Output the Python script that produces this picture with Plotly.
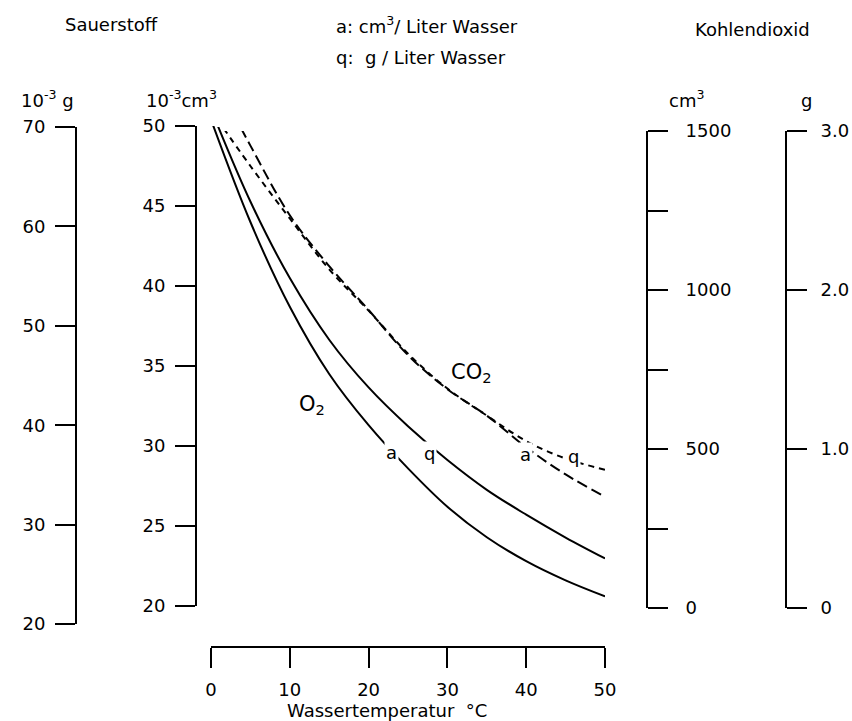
import plotly.graph_objects as go

W, H = 852, 721
FONT = "DejaVu Sans"

# ---- data ----
temp = [0, 5, 10, 15, 20, 25, 30, 35, 40, 45, 50]
o2_cm3 = [50.4, 44.0, 38.7, 34.5, 31.3, 28.6, 26.2, 24.3, 22.8, 21.6, 20.6]   # 10^-3 cm3 / L
o2_mg = [71.8, 62.5, 54.8, 48.6, 43.8, 39.9, 36.5, 33.5, 31.0, 28.7, 26.6]    # 10^-3 g / L
co2_cm3 = [1690, 1454, 1235, 1075, 937, 795, 688, 605, 505, 420, 350]          # cm3 / L
co2_g = [3.13, 2.78, 2.45, 2.13, 1.87, 1.60, 1.38, 1.21, 1.05, 0.94, 0.87]     # g / L

x_ticks = [0, 10, 20, 30, 40, 50]
o2_mg_ticks = [20, 30, 40, 50, 60, 70]
o2_cm3_ticks = [20, 25, 30, 35, 40, 45, 50]
co2_cm3_ticks = [0, 250, 500, 750, 1000, 1250, 1500]
co2_cm3_text = ["0", "", "500", "", "1000", "", "1500"]
co2_g_ticks = [0, 1, 2, 3]
co2_g_text = ["0", "1.0", "2.0", "3.0"]


def fx(px):
    return px / W


def fy(py):
    return 1 - py / H


fig = go.Figure()
line = dict(color="black", width=2)
fig.add_trace(go.Scatter(x=temp, y=o2_cm3, mode="lines", line=dict(line, shape="spline"),
                         xaxis="x", yaxis="y", name="O2 a"))
fig.add_trace(go.Scatter(x=temp, y=o2_mg, mode="lines", line=dict(line, shape="spline"),
                         xaxis="x", yaxis="y2", name="O2 q"))
fig.add_trace(go.Scatter(x=temp, y=co2_cm3, mode="lines",
                         line=dict(line, shape="spline", dash="11px,5px"),
                         xaxis="x", yaxis="y3", name="CO2 a"))
fig.add_trace(go.Scatter(x=temp, y=co2_g, mode="lines",
                         line=dict(line, shape="spline", dash="6px,5px"),
                         xaxis="x", yaxis="y4", name="CO2 q"))

axis_common = dict(showline=True, linecolor="black", linewidth=2, ticks="outside",
                   ticklen=20, tickwidth=2, tickcolor="black", showgrid=False,
                   zeroline=False, automargin=False,
                   tickfont=dict(family=FONT, size=18, color="black"))

fig.update_layout(
    width=W, height=H, margin=dict(l=0, r=0, t=0, b=0, pad=0, autoexpand=False),
    paper_bgcolor="white", plot_bgcolor="rgba(0,0,0,0)", showlegend=False,
    xaxis=dict(axis_common, domain=[fx(211), fx(605)], range=[0, 50], anchor="free",
               position=fy(647), tickvals=x_ticks, ticklabelstandoff=6),
    yaxis=dict(axis_common, domain=[fy(606), fy(126)], range=[20, 50], anchor="free",
               position=fx(196), side="left", tickvals=o2_cm3_ticks, ticklabelstandoff=6),
    yaxis2=dict(axis_common, domain=[fy(624), fy(127)], range=[20, 70], anchor="free",
                position=fx(76), side="left", tickvals=o2_mg_ticks, ticklabelstandoff=6),
    yaxis3=dict(axis_common, domain=[fy(608), fy(131)], range=[0, 1500], anchor="free",
                position=fx(647), side="right", tickvals=co2_cm3_ticks,
                ticktext=co2_cm3_text, ticklabelstandoff=14),
    yaxis4=dict(axis_common, domain=[fy(608), fy(131)], range=[0, 3], anchor="free",
                position=fx(786), side="right", tickvals=co2_g_ticks,
                ticktext=co2_g_text, ticklabelstandoff=10),
)

ann = []


def text(t, px, py, size=18, xanchor="center", bg=None):
    d = dict(text=t, x=fx(px), y=fy(py), xref="paper", yref="paper", showarrow=False,
             xanchor=xanchor, yanchor="middle", font=dict(family=FONT, size=size, color="black"))
    if bg:
        d.update(bgcolor=bg, borderpad=1)
    ann.append(d)


text("Sauerstoff", 111, 25)
text("a: cm<sup>3</sup>/ Liter Wasser", 334, 25, xanchor="left")
text("q:  g / Liter Wasser", 334, 58, xanchor="left")
text("Kohlendioxid", 752, 30)
text("10<sup>-3</sup> g", 47, 99)
text("10<sup>-3</sup>cm<sup>3</sup>", 181, 99)
text("cm<sup>3</sup>", 686, 99)
text("g", 806, 101)
text("O<sub>2</sub>", 312, 405, size=21)
text("CO<sub>2</sub>", 471, 373, size=21)
text("a", 391, 452, bg="white")
text("q", 430, 453, bg="white")
text("a", 525, 454, bg="white")
text("q", 573, 456, bg="white")
text("Wassertemperatur  °C", 387, 710)

fig.update_layout(annotations=ann)
fig.write_html("out.html")
